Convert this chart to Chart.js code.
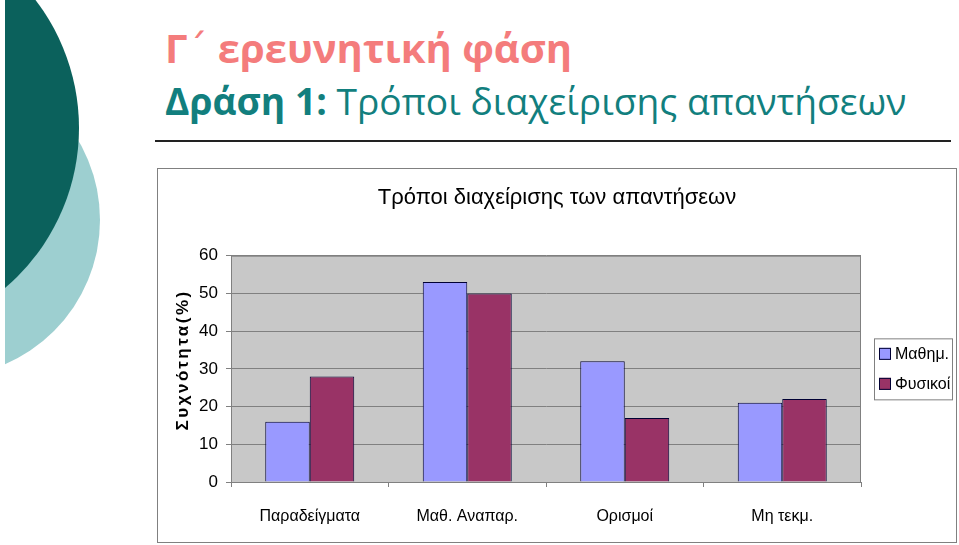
<!DOCTYPE html>
<html lang="el">
<head>
<meta charset="utf-8">
<title>Τρόποι διαχείρισης των απαντήσεων</title>
<script src="https://cdn.jsdelivr.net/npm/chart.js@4.4.1/dist/chart.umd.min.js"></script>
<style>
  html, body { margin: 0; padding: 0; background: #fff; }
  body { width: 959px; height: 545px; position: relative; overflow: hidden; font-family: 'Open Sans', sans-serif; }
  .deco { position: absolute; left: 5px; top: 0; width: 200px; height: 545px; overflow: hidden; }
  .circle { position: absolute; border-radius: 50%; }
  .light { left: -219px; top: 63px; width: 314px; height: 314px; background: #9dcfd0; }
  .dark { left: -346px; top: -82px; width: 420px; height: 420px; background: #0b615c; }
  .title { position: absolute; left: 165px; top: 28px; font-size: 40px; line-height: 1; font-weight: 700; color: #f47c7c; white-space: nowrap; }
  .title .tonos { font-family: 'DejaVu Sans', sans-serif; font-weight: 400; }
  .subtitle { position: absolute; left: 165px; top: 82px; font-size: 37.2px; line-height: 1; color: #127f7e; white-space: nowrap; }
  .subtitle b { font-weight: 700; }
  .rule { position: absolute; left: 155px; top: 140px; width: 796px; height: 2px; background: #222; }
  .chart-box { position: absolute; left: 157px; top: 168px; width: 800px; height: 375px; border: 1px solid #808080; box-sizing: border-box; }
  #chart { display: block; }
</style>
</head>
<body>
<div class="deco">
  <div class="circle light"></div>
  <div class="circle dark"></div>
</div>
<div class="title">Γ<span class="tonos">΄</span> ερευνητική φάση</div>
<div class="subtitle"><b>Δράση 1:</b> Τρόποι διαχείρισης απαντήσεων</div>
<div class="rule"></div>
<div class="chart-box">
  <canvas id="chart" width="798" height="373"></canvas>
</div>

<script>
// ===== Data =====
const categories = ['Παραδείγματα', 'Μαθ. Αναπαρ.', 'Ορισμοί', 'Μη τεκμ.'];
const seriesNames = ['Μαθημ.', 'Φυσικοί'];
const mathValues = [16, 53, 32, 21];
const physValues = [28, 50, 17, 22];
const yTicks = [0, 10, 20, 30, 40, 50, 60];

const chartTitle = 'Τρόποι διαχείρισης των απαντήσεων';
const yTitle = 'Συχνότητα(%)';
const colors = ['#9999ff', '#993366'];
const font = '"Liberation Sans", Arial, sans-serif';

// ===== Plot background + border =====
const plotArea = {
  id: 'plotArea',
  beforeDraw(chart) {
    const { ctx, chartArea: a } = chart;
    ctx.save();
    ctx.fillStyle = '#c8c8c8';
    ctx.fillRect(a.left, a.top, a.right - a.left, a.bottom - a.top);
    ctx.strokeStyle = '#808080';
    ctx.lineWidth = 1;
    ctx.strokeRect(a.left + 0.5, a.top + 0.5, a.right - a.left - 1, a.bottom - a.top);
    ctx.restore();
  }
};

// ===== Y title (spaced letters) + boxed legend =====
const extras = {
  id: 'extras',
  afterDraw(chart) {
    const { ctx, chartArea: a } = chart;
    const mid = (a.top + a.bottom) / 2;

    // y axis title
    ctx.save();
    ctx.translate(25, mid - 9);
    ctx.rotate(-Math.PI / 2);
    ctx.font = 'bold 17px ' + font;
    ctx.letterSpacing = '2.5px';
    ctx.fillStyle = '#000';
    ctx.textAlign = 'center';
    ctx.textBaseline = 'middle';
    ctx.fillText(yTitle, 0, 0);
    ctx.restore();

    // legend
    const bx = a.right + 13, bw = 78, bh = 61;
    const by = mid - bh / 2;
    ctx.save();
    ctx.fillStyle = '#fff';
    ctx.fillRect(bx, by, bw, bh);
    ctx.strokeStyle = '#808080';
    ctx.lineWidth = 1;
    ctx.strokeRect(bx + 0.5, by + 0.5, bw, bh);
    ctx.font = '16px ' + font;
    ctx.textBaseline = 'middle';
    chart.data.datasets.forEach((ds, i) => {
      const cy = mid + (i === 0 ? -15 : 15);
      ctx.fillStyle = ds.backgroundColor;
      ctx.fillRect(bx + 5, cy - 6, 12, 12);
      ctx.strokeStyle = '#000033';
      ctx.strokeRect(bx + 5.5, cy - 5.5, 11, 11);
      ctx.fillStyle = '#000';
      ctx.fillText(ds.label, bx + 21, cy + 1);
    });
    ctx.restore();
  }
};

new Chart(document.getElementById('chart'), {
  type: 'bar',
  data: {
    labels: categories,
    datasets: [
      { label: seriesNames[0], data: mathValues, backgroundColor: colors[0] },
      { label: seriesNames[1], data: physValues, backgroundColor: colors[1] }
    ]
  },
  options: {
    responsive: false,
    animation: false,
    layout: { padding: 0 },
    datasets: {
      bar: {
        categoryPercentage: 0.565,
        barPercentage: 1,
        borderColor: '#000033',
        borderWidth: 1
      }
    },
    plugins: {
      legend: { display: false },
      tooltip: { enabled: false },
      title: {
        display: true,
        text: chartTitle,
        color: '#000',
        font: { family: font, size: 22, weight: 'normal' },
        padding: { top: 16, bottom: 44.3 }
      }
    },
    scales: {
      x: {
        grid: { drawOnChartArea: false, offset: true, tickLength: 5, color: '#808080' },
        border: { color: '#808080' },
        ticks: {
          color: '#000',
          padding: 20,
          maxRotation: 0,
          font: { family: font, size: 16 }
        },
        afterFit: s => { s.height = 60; }
      },
      y: {
        min: 0,
        max: 60,
        afterBuildTicks: s => { s.ticks = yTicks.map(v => ({ value: v })); },
        grid: { color: '#808080', tickLength: 5 },
        border: { color: '#808080' },
        ticks: {
          color: '#000',
          padding: 8,
          font: { family: font, size: 17 }
        },
        afterFit: s => { s.width = 73; }
      },
      // empty right-hand strip that holds the legend box
      legendSpace: {
        position: 'right',
        min: 0,
        max: 1,
        grid: { display: false },
        border: { display: false },
        ticks: { display: false },
        afterFit: s => { s.width = 95; }
      }
    }
  },
  plugins: [plotArea, extras]
});
</script>
</body>
</html>
